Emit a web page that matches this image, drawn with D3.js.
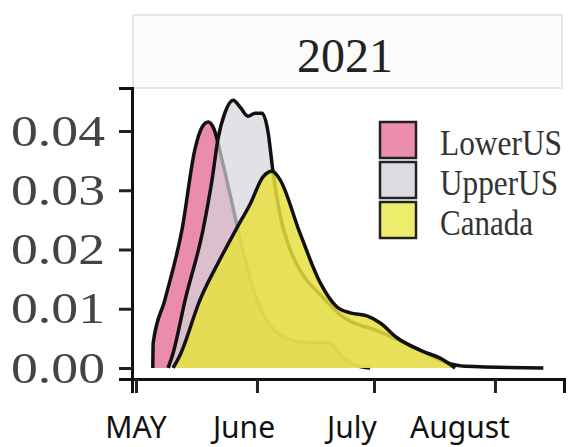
<!DOCTYPE html>
<html>
<head>
<meta charset="utf-8">
<script src="https://cdn.jsdelivr.net/npm/d3@7"></script>
<style>
  body { margin: 0; background: #fff; }
  svg { display: block; }
</style>
</head>
<body>
<div id="chart"></div>
<script>
const groups = ["LowerUS", "UpperUS", "Canada"];

const lowerDays = [4.3, 4.4, 7.4, 11.8, 15.1, 16.9, 18.5, 20, 22, 24.1, 26.7, 29.7, 33.1, 36.9, 42, 49.7, 52.3, 56.2, 60];
const lowerVals = [0, 0.0042, 0.0115, 0.0234, 0.0369, 0.0406, 0.0415, 0.0403, 0.0352, 0.0293, 0.0217, 0.014, 0.0085, 0.0056, 0.0044, 0.0042, 0.0022, 0.0005, 0];

const upperDays = [8.2, 9.5, 12.6, 17.2, 19.5, 21, 22.8, 24.9, 26.7, 28.7, 30.5, 32.3, 33.8, 35.1, 36.9, 39.5, 42.8, 47.2, 52.3, 62.6, 72.8, 79.2, 84.4, 104.4];
const upperVals = [0, 0.0025, 0.0115, 0.0234, 0.0318, 0.0386, 0.0431, 0.0452, 0.044, 0.0425, 0.043, 0.043, 0.04, 0.0332, 0.0259, 0.02, 0.0157, 0.0124, 0.009, 0.0061, 0.003, 0.001, 0.0003, 0];

const canadaDays = [9.5, 11.3, 16.4, 21.5, 25.9, 29.2, 32.6, 34.9, 36.9, 42, 47.2, 51.5, 54.9, 59.2, 62.6, 66.9, 72.8, 78.7, 81.8];
const canadaVals = [0, 0.0022, 0.0115, 0.0183, 0.0237, 0.0276, 0.0323, 0.0332, 0.0318, 0.0228, 0.0144, 0.0103, 0.0093, 0.0088, 0.0076, 0.0051, 0.003, 0.0014, 0];

const yTicks = [0, 0.01, 0.02, 0.03, 0.04];
const monthTicks = [0, 31, 61, 92];
const monthLabels = ["MAY", "June", "July", "August"];
const panelTitle = "2021";

const fills = { LowerUS: "#e56f98", UpperUS: "#d6d4da", Canada: "#e6e040" };
const fillOpacity = { LowerUS: 0.8, UpperUS: 0.7, Canada: 0.85 };
const legendFills = { LowerUS: "#eb8dab", UpperUS: "#dcdbe0", Canada: "#eeec6c" };

const series = [
  { key: "LowerUS", days: lowerDays, vals: lowerVals },
  { key: "UpperUS", days: upperDays, vals: upperVals },
  { key: "Canada", days: canadaDays, vals: canadaVals }
].map(s => ({ key: s.key, points: s.days.map((d, i) => ({ day: d, v: s.vals[i] })) }));

const W = 577, H = 447;
const plotL = 132, plotR = 564, plotT = 88, plotB = 379;

const svg = d3.select("#chart").append("svg")
  .attr("width", W)
  .attr("height", H);

const x = d3.scaleLinear().domain([-1.03, 109.7]).range([plotL, plotR]);
const y = d3.scaleLinear().domain([-0.00186, 0.04726]).range([plotB, plotT]);

// strip
svg.append("rect")
  .attr("x", 133).attr("y", 15)
  .attr("width", 429).attr("height", 73)
  .attr("fill", "#fbfbfb")
  .attr("stroke", "#e6e6e6")
  .attr("stroke-width", 2);

svg.append("text")
  .attr("x", (plotL + plotR) / 2 - 3)
  .attr("y", 72)
  .attr("text-anchor", "middle")
  .attr("font-family", "Liberation Serif, serif")
  .attr("font-size", 48)
  .attr("fill", "#222")
  .text(panelTitle);

// densities
const area = d3.area()
  .x(d => x(d.day))
  .y0(y(0))
  .y1(d => y(d.v))
  .curve(d3.curveMonotoneX);

const line = d3.line()
  .x(d => x(d.day))
  .y(d => y(d.v))
  .curve(d3.curveMonotoneX);

const dens = svg.append("g");
series.forEach(s => {
  dens.append("path")
    .attr("d", area(s.points))
    .attr("fill", fills[s.key])
    .attr("fill-opacity", fillOpacity[s.key]);
  dens.append("path")
    .attr("d", line(s.points))
    .attr("fill", "none")
    .attr("stroke", "#111")
    .attr("stroke-width", 3.5)
    .attr("stroke-linejoin", "round");
});

// axes
const yAxis = svg.append("g")
  .attr("transform", `translate(${plotL},0)`)
  .call(d3.axisLeft(y).tickValues(yTicks).tickFormat(d3.format(".2f")).tickSize(13).tickPadding(14));

const xAxis = svg.append("g")
  .attr("transform", `translate(0,${plotB})`)
  .call(d3.axisBottom(x).tickValues(monthTicks).tickFormat("").tickSize(14));

[yAxis, xAxis].forEach(g => {
  g.select(".domain").attr("stroke", "#111").attr("stroke-width", 3);
  g.selectAll(".tick line").attr("stroke", "#222").attr("stroke-width", 3);
});

yAxis.selectAll(".tick text")
  .attr("font-family", "Liberation Serif, serif")
  .attr("font-size", 44)
  .attr("textLength", 94)
  .attr("lengthAdjust", "spacingAndGlyphs")
  .attr("fill", "#444");

// month labels under the axis
const labelX = d3.scalePoint().domain(monthLabels).range([136, 460]);
svg.append("g").selectAll("text")
  .data(monthLabels)
  .join("text")
  .attr("x", d => labelX(d))
  .attr("y", 438)
  .attr("text-anchor", "middle")
  .attr("font-family", "Noto Sans, sans-serif")
  .attr("font-size", 30)
  .attr("fill", "#111")
  .text(d => d);

// legend
const legend = svg.append("g").attr("transform", "translate(380,122)");
const textLen = { LowerUS: 122, UpperUS: 118, Canada: 93 };
groups.forEach((g, i) => {
  const row = legend.append("g").attr("transform", `translate(0,${i * 40})`);
  row.append("rect")
    .attr("x", 0).attr("y", 0)
    .attr("width", 36).attr("height", 36)
    .attr("fill", legendFills[g])
    .attr("stroke", "#222")
    .attr("stroke-width", 2.5);
  row.append("text")
    .attr("x", 60)
    .attr("y", 33)
    .attr("font-family", "Liberation Serif, serif")
    .attr("font-size", 36)
    .attr("textLength", textLen[g])
    .attr("lengthAdjust", "spacingAndGlyphs")
    .attr("fill", "#333")
    .text(g);
});
</script>
</body>
</html>
